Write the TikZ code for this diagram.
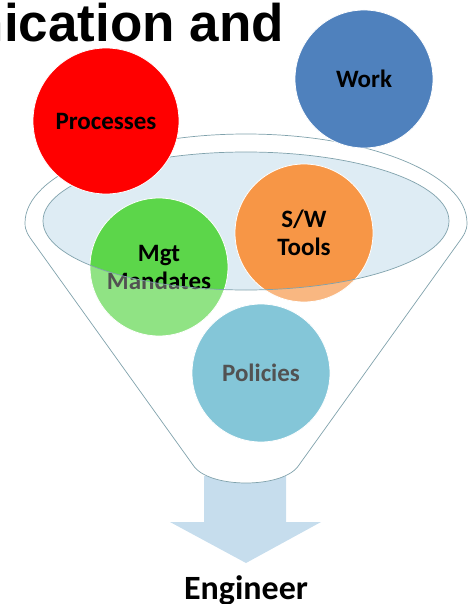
\documentclass[tikz,border=0pt]{standalone}
\usepackage{fontspec}
\newfontfamily\titlefont{Liberation Sans}
\newfontfamily\calfont{Carlito}
\definecolor{cred}{RGB}{255,0,0}
\definecolor{cwork}{RGB}{79,129,189}
\definecolor{corange}{RGB}{247,150,70}
\definecolor{cgreen}{RGB}{92,214,74}
\definecolor{cpol}{RGB}{75,172,198}
\definecolor{cellfill}{RGB}{222,236,244}
\definecolor{cline}{RGB}{128,162,172}
\definecolor{carrow}{RGB}{198,221,237}
\begin{document}
\begin{tikzpicture}[x=1pt,y=-1pt,
  ball/.style={circle, inner sep=0pt, draw=white, line width=0.8pt, align=center,
    font=\calfont\bfseries\fontsize{25}{28}\selectfont},
  outline/.style={draw=cline, line width=0.7pt}]
\useasboundingbox (0,0) rectangle (470,604);
\clip (0,0) rectangle (470,604);
\def\funnelpath{(25,223) arc[start angle=180, end angle=360, x radius=221, y radius=89]
  .. controls (467,231) and (464,235) .. (457.5,244)
  -- (299,465) .. controls (284,489) and (208,489) .. (193,465)
  -- (34.5,244) .. controls (28,235) and (25,231) .. (25,223) -- cycle}
\def\innerpath{(246,221) circle[x radius=203, y radius=69]}
% arrow
\fill[carrow] (204,476) -- (286,476) -- (286,522) -- (321,522) -- (246,563)
  -- (170,522) -- (204,522) -- cycle;
% funnel body
\fill[white] \funnelpath;
\fill[cellfill] \innerpath;
% inner circles
\node[ball, minimum size=138pt, fill=corange] (sw) at (304,233) {S/W\\Tools};
\node[ball, minimum size=138pt, fill=cgreen] (mgt) at (159,267) {Mgt\\Mandates};
\node[ball, minimum size=138pt, fill=cpol] (pol) at (261,373) {Policies};
% translucent overlay on funnel body outside inner ellipse
\fill[white, opacity=0.32, even odd rule] \funnelpath \innerpath;
% outlines
\draw[outline] \funnelpath;
\draw[outline] \innerpath;
% outer circles
\node[ball, minimum size=146pt, fill=cred] (proc) at (106,121) {Processes};
\node[ball, minimum size=138pt, fill=cwork] (work) at (364,79) {Work};
% texts
\node[anchor=base east, inner sep=0pt, font=\titlefont\bfseries\fontsize{53}{60}\selectfont] (title) at (284,42) {nication and};
\node[anchor=base, inner sep=0pt, font=\calfont\bfseries\fontsize{34}{40}\selectfont] (eng) at (246,599) {Engineer};
\end{tikzpicture}
\end{document}
